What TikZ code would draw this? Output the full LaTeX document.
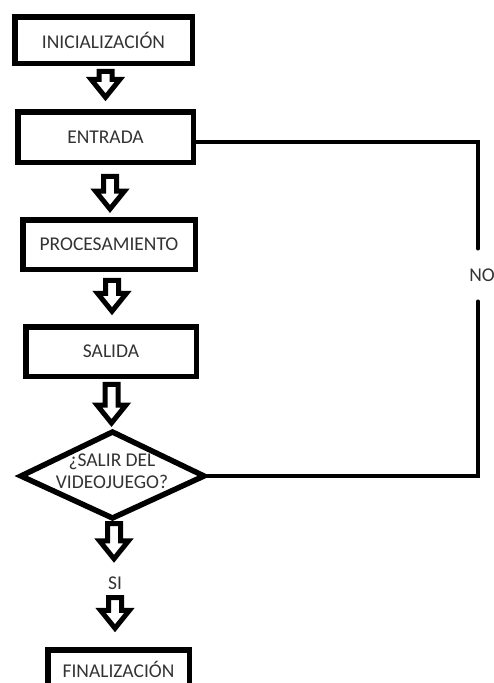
\documentclass[tikz,border=0pt]{standalone}
\usepackage{fontspec}
\setmainfont{Carlito}
\usetikzlibrary{calc}
\definecolor{txt}{HTML}{333333}
\tikzset{
  box/.style={draw=black, line width=5.5pt, line join=miter, inner sep=0pt, text=txt, font=\fontsize{19.5}{22}\selectfont},
  lbl/.style={inner sep=0pt, text=txt, font=\fontsize{19.5}{22}\selectfont, align=center},
  barrow/.style={draw=black, line width=5pt, line join=miter},
  dia/.style={draw=black, line width=5.5pt, line join=miter},
  noline/.style={draw=black, line width=4.5pt, line cap=round}
}
\newcommand\blockarrow[5]{%
  \draw[barrow] let \p1=#2, \p2=#4 in
   (#1pt-6.5pt,\y1-#3pt) -- (#1pt-6.5pt,\y2+#5pt+18pt) -- (#1pt-14.5pt,\y2+#5pt+18pt)
   -- (#1pt,\y2+#5pt) -- (#1pt+14.5pt,\y2+#5pt+18pt) -- (#1pt+6.5pt,\y2+#5pt+18pt)
   -- (#1pt+6.5pt,\y1-#3pt) -- cycle;}
\begin{document}
\begin{tikzpicture}[x=1pt,y=-1pt]
\useasboundingbox (0,0) rectangle (494,683);
% boxes
\node[box, minimum width=177.5pt, minimum height=46.5pt] (ini) at (103.5,40) {INICIALIZACIÓN};
\node[box, minimum width=175.5pt, minimum height=50.5pt] (ent) at (105.5,137) {ENTRADA};
\node[box, minimum width=172.5pt, minimum height=49.5pt] (proc) at (109,244.5) {PROCESAMIENTO};
\node[box, minimum width=170.5pt, minimum height=49.5pt] (sal) at (111,351.5) {SALIDA};
\node[box, minimum width=141.5pt, minimum height=39.5pt] (fin) at (118.5,669.5) {FINALIZACIÓN};
% decision
\node[lbl] (q) at (112,471) {¿SALIR DEL\\VIDEOJUEGO?};
\coordinate (dT) at (112.5,432);
\coordinate (dR) at (204,476);
\coordinate (dB) at (112.5,518);
\coordinate (dL) at (21,476);
\draw[dia] (dT) -- (dR) -- (dB) -- (dL) -- cycle;
% labels
\node[lbl, minimum height=24pt] (si) at (115,583) {SI};
\node[lbl, minimum height=53pt] (no) at (482,275) {NO};
% block arrows
\blockarrow{105.5}{(ini.south)}{5.25}{(ent.north)}{11.75}
\blockarrow{110}{(ent.south)}{11.25}{(proc.north)}{8}
\blockarrow{112}{(proc.south)}{8.25}{(sal.north)}{12.75}
\blockarrow{111.5}{(sal.south)}{5.25}{(dT)}{9}
\blockarrow{114}{(dB)}{5.5}{(si.north)}{12}
\blockarrow{115}{(si.south)}{2.5}{(fin.north)}{18.75}
% NO loop
\coordinate (c1) at (478,142);
\coordinate (c2) at (478,476);
\draw[noline] ([yshift=-5pt]ent.east) -- (c1) -- (c1 |- no.north);
\draw[noline] (dR) -- (c2) -- (c2 |- no.south);
\end{tikzpicture}
\end{document}
